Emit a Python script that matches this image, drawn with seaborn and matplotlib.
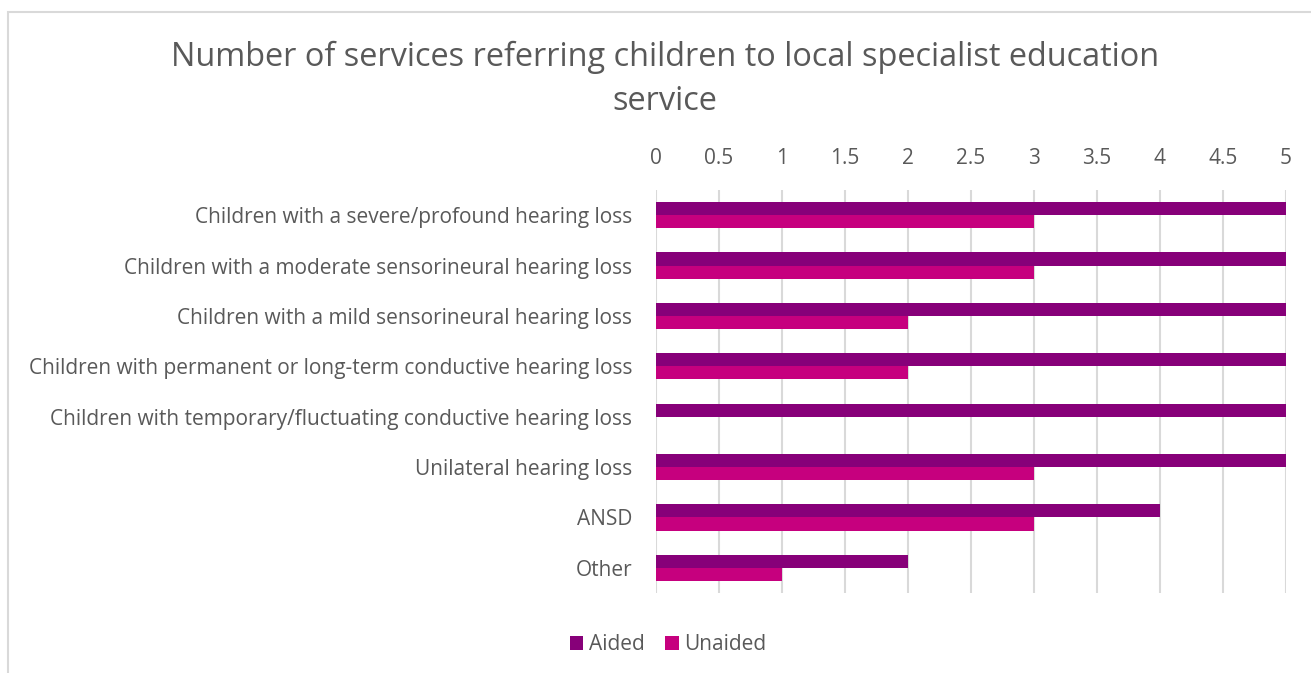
import matplotlib
matplotlib.use("Agg")
import matplotlib.pyplot as plt
import seaborn as sns
import pandas as pd
from matplotlib.patches import Rectangle, Patch

categories = [
    "Children with a severe/profound hearing loss",
    "Children with a moderate sensorineural hearing loss",
    "Children with a mild sensorineural hearing loss",
    "Children with permanent or long-term conductive hearing loss",
    "Children with temporary/fluctuating conductive hearing loss",
    "Unilateral hearing loss",
    "ANSD",
    "Other",
]
aided = [5, 5, 5, 5, 5, 5, 4, 2]
unaided = [3, 3, 2, 2, 0, 3, 3, 1]
series = ["Aided", "Unaided"]
xticks = [0, 0.5, 1, 1.5, 2, 2.5, 3, 3.5, 4, 4.5, 5]
xticklabels = ["0", "0.5", "1", "1.5", "2", "2.5", "3", "3.5", "4", "4.5", "5"]
title_lines = ["Number of services referring children to local specialist education", "service"]

colors = {"Aided": "#870079", "Unaided": "#C6007E"}
text_color = "#595959"

df = pd.DataFrame({
    "Category": categories * 2,
    "Series": ["Aided"] * len(categories) + ["Unaided"] * len(categories),
    "Value": aided + unaided,
})

sns.set_theme(style="white")
plt.rcParams["font.family"] = ["Open Sans", "DejaVu Sans"]

fig = plt.figure(figsize=(13.11, 6.73), dpi=100)
ax = fig.add_axes([656 / 1311, 1 - 593 / 673, 630 / 1311, 403 / 673])

sns.barplot(data=df, x="Value", y="Category", hue="Series", order=categories,
            hue_order=series, palette=colors, orient="h", width=0.52,
            saturation=1, ax=ax, legend=False, edgecolor="none", linewidth=0)

ax.set_xlim(0, 5)
ax.set_ylim(len(categories) - 0.5, -0.5)
ax.set_xticks(xticks)
ax.set_xticklabels(xticklabels)
ax.xaxis.tick_top()
ax.tick_params(axis="x", length=0, pad=15, labelsize=15, labelcolor=text_color)
ax.tick_params(axis="y", length=0, pad=17, labelsize=15, labelcolor=text_color)
for lbl in ax.get_yticklabels():
    lbl.set_va("center_baseline")
ax.set_xlabel("")
ax.set_ylabel("")
ax.grid(axis="x", color="#D9D9D9", linewidth=1.5)
ax.set_axisbelow(True)
for s in ax.spines.values():
    s.set_visible(False)

fig.text(665 / 1311, 1 - 57 / 673, title_lines[0],
         ha="center", va="center", fontsize=23.4, color=text_color)
fig.text(665 / 1311, 1 - 102 / 673, title_lines[1],
         ha="center", va="center", fontsize=23.4, color=text_color)

handles = [Patch(facecolor=colors[s], edgecolor="none", label=s) for s in series]
leg = fig.legend(handles=handles, loc="center", bbox_to_anchor=(668 / 1311, 1 - 645 / 673),
                 ncol=2, frameon=False, fontsize=15, handlelength=0.65, handleheight=0.65,
                 handletextpad=0.25, columnspacing=1.0)
for t in leg.get_texts():
    t.set_color(text_color)

fig.patches.append(Rectangle((8 / 1311, -0.05), 1.2, 1 - 12 / 673 + 0.05,
                             transform=fig.transFigure, fill=False,
                             edgecolor="#D9D9D9", linewidth=1.5))

fig.savefig("out.png", dpi=100, facecolor="white")
